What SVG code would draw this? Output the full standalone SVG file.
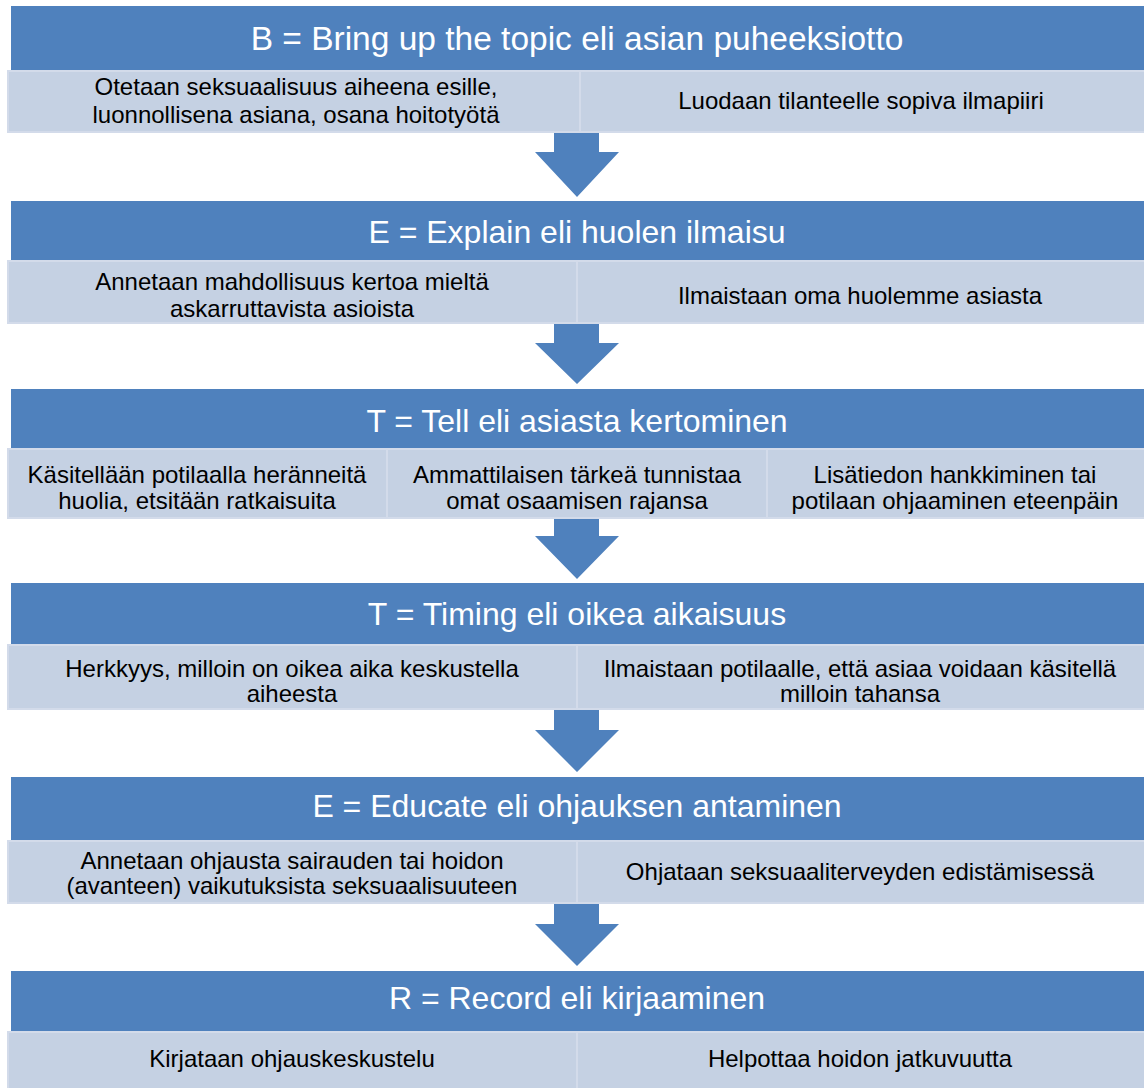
<svg xmlns="http://www.w3.org/2000/svg" width="1144" height="1088" viewBox="0 0 1144 1088">
<style>
.hdr{fill:#4f81bd}
.box{fill:#c5d1e3;stroke:#d3dbea;stroke-width:2}
.arr{fill:#4f81bd}
.ht{font-family:"Liberation Sans",Arial,sans-serif;font-size:32px;fill:#ffffff;text-anchor:middle}
.bt{font-family:"Liberation Sans",Arial,sans-serif;font-size:24px;fill:#000000;text-anchor:middle}
</style>
<rect width="1144" height="1088" fill="#ffffff"/>
<g id="connectors">
<polygon class="arr" points="554,132 599,132 599,152 619,152 577,197 535,152 554,152"/>
<polygon class="arr" points="554,323 599,323 599,343 619,343 577,384 535,343 554,343"/>
<polygon class="arr" points="554,518 599,518 599,536 619,536 577,579 535,536 554,536"/>
<polygon class="arr" points="554,709 599,709 599,730 619,730 577,772 535,730 554,730"/>
<polygon class="arr" points="554,903 599,903 599,924 619,924 577,966 535,924 554,924"/>
</g>
<g id="s1">
<rect class="hdr" x="11" y="6" width="1133" height="65"/>
<text class="ht" x="577" y="50" style="font-size:33.5px">B = Bring up the topic eli asian puheeksiotto</text>
<rect class="box" x="8" y="71" width="577" height="61"/>
<text class="bt" x="296" y="95">Otetaan seksuaalisuus aiheena esille,</text>
<text class="bt" x="296" y="123">luonnollisena asiana, osana hoitotyötä</text>
<rect class="box" x="580" y="71" width="565" height="61"/>
<text class="bt" x="861" y="109">Luodaan tilanteelle sopiva ilmapiiri</text>
</g>
<g id="s2">
<rect class="hdr" x="11" y="201" width="1133" height="60"/>
<text class="ht" x="577" y="243">E = Explain eli huolen ilmaisu</text>
<rect class="box" x="8" y="261" width="569" height="62"/>
<text class="bt" x="292" y="290">Annetaan mahdollisuus kertoa mieltä</text>
<text class="bt" x="292" y="317">askarruttavista asioista</text>
<rect class="box" x="577" y="261" width="568" height="62"/>
<text class="bt" x="860" y="304">Ilmaistaan oma huolemme asiasta</text>
</g>
<g id="s3">
<rect class="hdr" x="11" y="389" width="1133" height="60"/>
<text class="ht" x="577" y="432">T = Tell eli asiasta kertominen</text>
<rect class="box" x="8" y="449" width="379" height="69"/>
<text class="bt" x="197" y="483">Käsitellään potilaalla heränneitä</text>
<text class="bt" x="197" y="509">huolia, etsitään ratkaisuita</text>
<rect class="box" x="387" y="449" width="380" height="69"/>
<text class="bt" x="577" y="483">Ammattilaisen tärkeä tunnistaa</text>
<text class="bt" x="577" y="509">omat osaamisen rajansa</text>
<rect class="box" x="767" y="449" width="378" height="69"/>
<text class="bt" x="955" y="483">Lisätiedon hankkiminen tai</text>
<text class="bt" x="955" y="509">potilaan ohjaaminen eteenpäin</text>
</g>
<g id="s4">
<rect class="hdr" x="11" y="583" width="1133" height="62"/>
<text class="ht" x="577" y="625">T = Timing eli oikea aikaisuus</text>
<rect class="box" x="8" y="645" width="569" height="64"/>
<text class="bt" x="292" y="677">Herkkyys, milloin on oikea aika keskustella</text>
<text class="bt" x="292" y="702">aiheesta</text>
<rect class="box" x="577" y="645" width="568" height="64"/>
<text class="bt" x="860" y="677">Ilmaistaan potilaalle, että asiaa voidaan käsitellä</text>
<text class="bt" x="860" y="702">milloin tahansa</text>
</g>
<g id="s5">
<rect class="hdr" x="11" y="777" width="1133" height="64"/>
<text class="ht" x="577" y="817">E = Educate eli ohjauksen antaminen</text>
<rect class="box" x="8" y="841" width="569" height="62"/>
<text class="bt" x="292" y="869">Annetaan ohjausta sairauden tai hoidon</text>
<text class="bt" x="292" y="894">(avanteen) vaikutuksista seksuaalisuuteen</text>
<rect class="box" x="577" y="841" width="568" height="62"/>
<text class="bt" x="860" y="880">Ohjataan seksuaaliterveyden edistämisessä</text>
</g>
<g id="s6">
<rect class="hdr" x="11" y="971" width="1133" height="61"/>
<text class="ht" x="577" y="1009">R = Record eli kirjaaminen</text>
<rect class="box" x="8" y="1032" width="569" height="62"/>
<text class="bt" x="292" y="1067">Kirjataan ohjauskeskustelu</text>
<rect class="box" x="577" y="1032" width="568" height="62"/>
<text class="bt" x="860" y="1067">Helpottaa hoidon jatkuvuutta</text>
</g>
</svg>
